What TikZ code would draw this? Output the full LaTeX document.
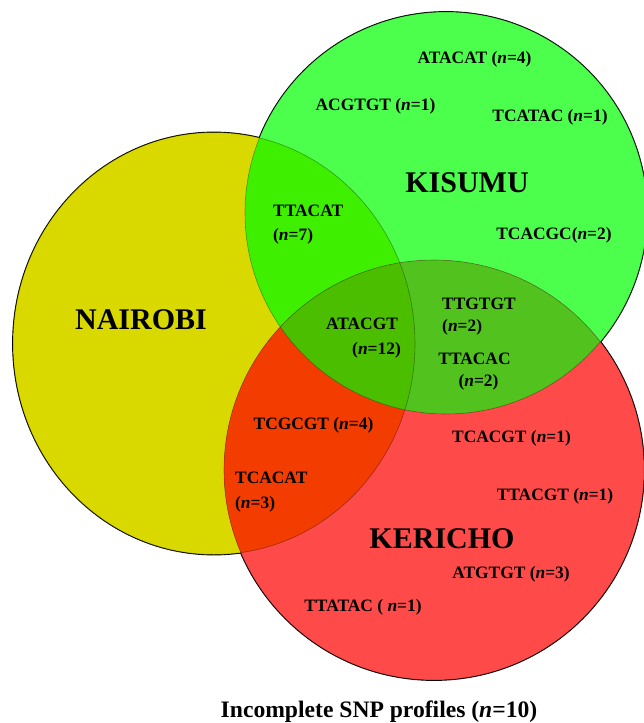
\documentclass[tikz,border=0pt]{standalone}
\usepackage{fontspec}
\setmainfont{Liberation Serif}
\definecolor{cy}{HTML}{D9D900}
\definecolor{cg}{HTML}{4DFF4D}
\definecolor{cr}{HTML}{FF4A4A}
\definecolor{cyg}{HTML}{3FEF00}
\definecolor{cyr}{HTML}{F23C00}
\definecolor{cgr}{HTML}{52C21E}
\definecolor{cygr}{HTML}{4BBE00}
\begin{document}
\begin{tikzpicture}[x=1pt,y=-1pt,
  lbl/.style={font=\fontsize{17.4}{20}\selectfont\bfseries, inner sep=0pt, text height=11.5pt, text depth=0pt},
  big/.style={font=\fontsize{30}{34}\selectfont\bfseries, inner sep=0pt, text height=20pt, text depth=0pt},
  captext/.style={font=\fontsize{23.6}{26}\selectfont\bfseries, inner sep=0pt, text height=15.6pt, text depth=0pt},
  outerline/.style={draw=black, line width=1.8pt},
  innerline/.style={draw=black, draw opacity=0.35, line width=0.6pt}]
\useasboundingbox (0,0) rectangle (643,723);
\coordinate (nc) at (214,343.5);
\coordinate (kc) at (446,213);
\coordinate (rc) at (434,470);
\def\cnai{(nc) ellipse [x radius=201pt, y radius=211pt]}
\def\ckis{(kc) circle [radius=201pt]}
\def\cker{(rc) circle [radius=210pt]}
% outer outlines (inner halves get covered by the fills)
\path[outerline] \cnai;
\path[outerline] \ckis;
\path[outerline] \cker;
% region fills
\fill[cy] \cnai;
\fill[cg] \ckis;
\fill[cr] \cker;
\begin{scope}
  \clip \cnai;
  \fill[cyg] \ckis;
  \fill[cyr] \cker;
\end{scope}
\begin{scope}
  \clip \ckis;
  \fill[cgr] \cker;
\end{scope}
\begin{scope}
  \clip \cnai;
  \clip \ckis;
  \fill[cygr] \cker;
\end{scope}
% faint inner arcs
\path[innerline] \cnai;
\path[innerline] \ckis;
\path[innerline] \cker;
% Kisumu
\node[lbl] (k1) at (474.5,57.5) {ATACAT (\textit{n}=4)};
\node[lbl] (k2) at (375.5,105) {ACGTGT (\textit{n}=1)};
\node[lbl] (k3) at (550,115.5) {TCATAC (\textit{n}=1)};
\node[big] (kis) at (467,182.5) {KISUMU};
\node[lbl] (k4) at (554,233.5) {TCACGC(\textit{n}=2)};
% Nairobi & Kisumu
\node[lbl,anchor=west] (nk1) at (273,210.5) {TTACAT};
\node[lbl,anchor=west] (nk2) at (273,235) {(\textit{n}=7)};
% Nairobi
\node[big] (nai) at (141,319) {NAIROBI};
% all three
\node[lbl] (a1) at (362,324) {ATACGT};
\node[lbl] (a2) at (376.5,349) {(\textit{n}=12)};
% Kisumu & Kericho
\node[lbl,anchor=west] (kr1) at (442,304) {TTGTGT};
\node[lbl,anchor=west] (kr2) at (442,326) {(\textit{n}=2)};
\node[lbl] (kr3) at (474.5,358.5) {TTACAC};
\node[lbl] (kr4) at (478.5,380.5) {(\textit{n}=2)};
% Nairobi & Kericho
\node[lbl] (nr1) at (313.5,424) {TCGCGT (\textit{n}=4)};
\node[lbl,anchor=west] (nr2) at (235,478) {TCACAT};
\node[lbl,anchor=west] (nr3) at (235,503) {(\textit{n}=3)};
% Kericho
\node[lbl] (r1) at (511.5,436.5) {TCACGT (\textit{n}=1)};
\node[lbl] (r2) at (555,494.5) {TTACGT (\textit{n}=1)};
\node[big] (ker) at (442,538) {KERICHO};
\node[lbl] (r3) at (511,573) {ATGTGT (\textit{n}=3)};
\node[lbl] (r4) at (363,605.5) {TTATAC ( \textit{n}=1)};
% caption
\node[captext] (capt) at (379,710) {Incomplete SNP profiles (\textit{n}=10)};
\end{tikzpicture}
\end{document}
